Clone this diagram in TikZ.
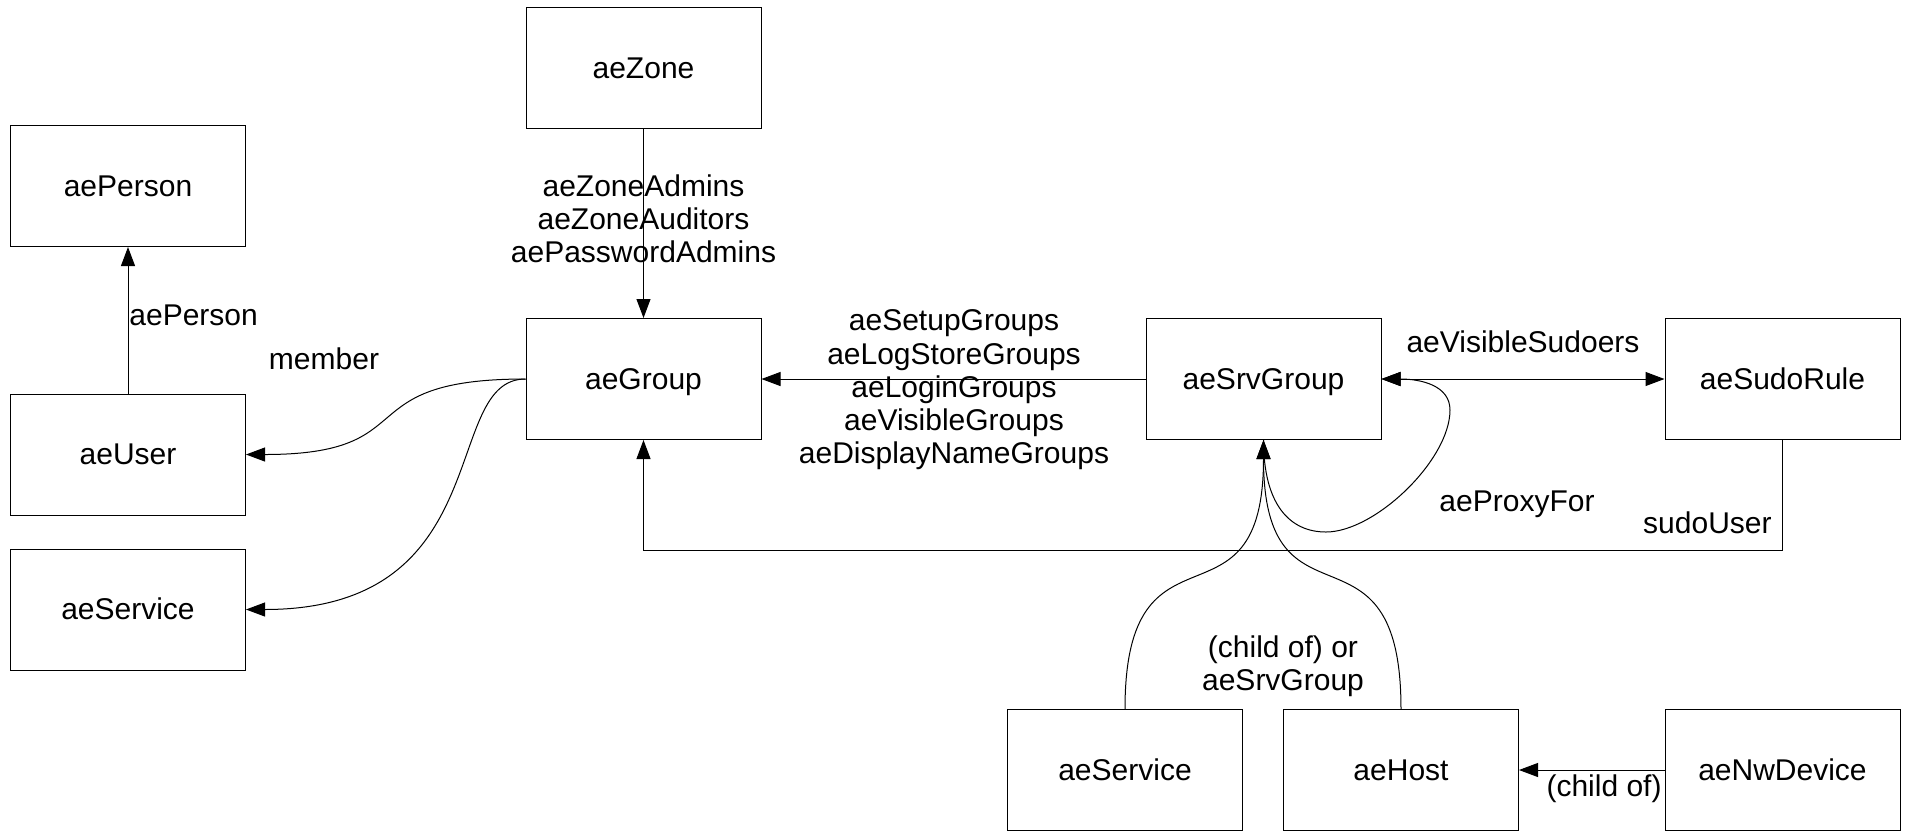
\documentclass[tikz,border=0pt]{standalone}
\usepackage{fontspec}
\setmainfont{Liberation Sans}
\usetikzlibrary{arrows.meta}
\begin{document}
\begin{tikzpicture}[x=0.5pt,y=-0.5pt,
  box/.style={draw, line width=0.5pt, minimum width=117.5pt, minimum height=60.5pt, inner sep=0pt, text height=13.6pt, text depth=3.2pt, font=\fontsize{15}{16.6}\selectfont},
  lbl/.style={font=\fontsize{15}{16.6}\selectfont, inner sep=0pt, align=center},
  conn/.style={line width=0.5pt},
  arr/.style={conn, -{Triangle[length=9.5pt,width=7pt]}},
  dbl/.style={conn, {Triangle[length=9.5pt,width=7pt]}-{Triangle[length=9.5pt,width=7pt]}}]
\useasboundingbox (0,0) rectangle (1908,832);

% nodes
\node[box] (zone)     at (643.5,68)   {aeZone};
\node[box] (person)   at (128,186)    {aePerson};
\node[box] (user)     at (128,454.5)  {aeUser};
\node[box] (serviceL) at (128,609.5)  {aeService};
\node[box] (group)    at (643.5,379)  {aeGroup};
\node[box] (srv)      at (1263.5,379) {aeSrvGroup};
\node[box] (sudo)     at (1782.5,379) {aeSudoRule};
\node[box] (serviceB) at (1125,770)   {aeService};
\node[box] (host)     at (1401,770)   {aeHost};
\node[box] (nw)       at (1782.5,770) {aeNwDevice};

% connectors
\draw[arr] (user.north) -- (person.south);
\node[lbl, anchor=west] (lperson) at (129,315) {aePerson};

\draw[arr] (zone.south) -- (group.north);
\node[lbl] (lzone) at (643.5,219) {aeZoneAdmins\\aeZoneAuditors\\aePasswordAdmins};

\draw[arr] (group.west) .. controls (345,379) and (427,454.5) .. (user.east);
\draw[arr] (group.west) .. controls (440,379) and (500,609.5) .. (serviceL.east);
\node[lbl] (lmember) at (324,359) {member};

\draw[arr] (srv.west) -- (group.east);
\node[lbl] (lsrv) at (954,390) {aeSetupGroups\\aeLogStoreGroups\\aeLoginGroups\\aeVisibleGroups\\aeDisplayNameGroups};

\draw[dbl] (srv.east) -- (sudo.west);
\node[lbl] (lsudoers) at (1523,342) {aeVisibleSudoers};

\draw[arr] (sudo.south) -- ++(0,110) -| (group.south);
\node[lbl, anchor=east] (lsudouser) at (1772,523) {sudoUser};

\draw[arr] (srv.south) .. controls (1263.5,505) and (1290,532) .. (1326,532)
  .. controls (1375,532) and (1450,460) .. (1450,410)
  .. controls (1450,385) and (1420,379) .. (srv.east);
\node[lbl] (lproxy) at (1517,504) {aeProxyFor};

\draw[arr] (serviceB.north) .. controls (1125,506) and (1263.5,643) .. (srv.south);
\draw[arr] (host.north) .. controls (1401,506) and (1263.5,643) .. (srv.south);
\node[lbl] (lchild) at (1283,666) {(child of) or\\aeSrvGroup};

\draw[arr] (nw.west) -- (host.east);
\node[lbl, anchor=east] (lchild2) at (1662,789) {(child of)};
\end{tikzpicture}
\end{document}
